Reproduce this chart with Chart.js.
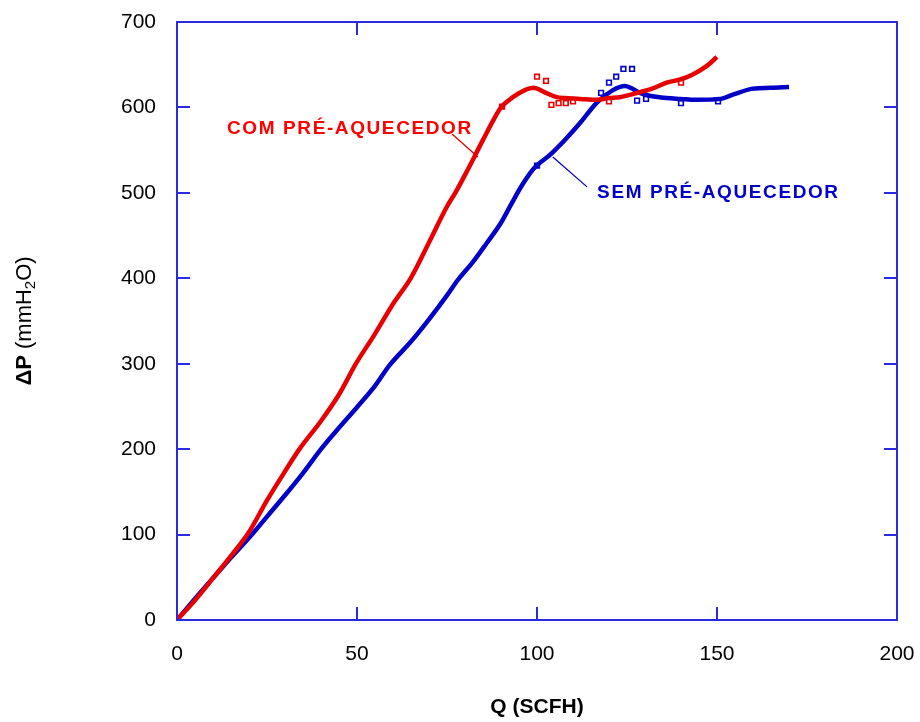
<!DOCTYPE html>
<html>
<head>
<meta charset="utf-8">
<script src="https://cdn.jsdelivr.net/npm/chart.js@4.4.1/dist/chart.umd.min.js"></script>
<style>
  html,body{margin:0;padding:0;background:#fff;}
  #wrap{width:920px;height:722px;}
</style>
</head>
<body>
<div id="wrap"><canvas id="c" width="920" height="722"></canvas></div>
<script>
/* curva com pré-aquecedor (Q em SCFH, ΔP em mmH2O) */
const comQ  = [0,5,10,15,20,25,30,34,40,45,49.7,55,60,64.9,70,75,77.3,80.5,85,88,90,93.3,96.5,99,102,105.5,108,112,116.7,120,123,128.6,132,136,140,143,147,150];
const comDP = [0,23,49,75,103,140,174,200,233,264,300,335,370,400,442,484,500,525,562,586,600,612,620,623,618,612,611,610,609,611,612,618,622,629,633,638,648,659];
/* pontos dispersos medidos, com pré-aquecedor */
const comPtsQ  = [90.3,100,102.5,104,106,108,110,120,140];
const comPtsDP = [601,636,631,603,605,605,607,607,629];

/* curva sem pré-aquecedor */
const semQ  = [0,5,10,15,21,25,30,35,40,45,50,55,59,65,70,75,78,82,86,90,93,96,99,104,108,112,116.7,121,124.4,126,128.6,131,136,140,144,151,154.4,160,165,170];
const semDP = [0,25,49,73,101,121,146,172,200,225,249,274,298,326,352,380,398,418,441,465,488,510,528,546,563,582,606,620,625,623,617,614,611,610,609,610,615,622,623,624];
const semPtsQ  = [100,117.8,120,122,124,126.4,127.8,130.3,140,150.3];
const semPtsDP = [532,617,629,636,645,645,608,610,605,607];

const xTicks = [0,50,100,150,200];
const yTicks = [0,100,200,300,400,500,600,700];

const RED  = '#e60000';
const BLUE = '#0000c8';
const AXIS = '#2a2ae0';
const FONT = '"Liberation Sans", Arial, sans-serif';

const pts = (xs,ys)=>xs.map((x,i)=>({x, y:ys[i]}));
const noPad = s=>{ s.paddingTop = s.paddingBottom = s.paddingLeft = s.paddingRight = 0; };

/* moldura com marcas internas nos quatro lados */
const framePlugin = {
  id:'frame',
  afterDraw(chart){
    const {ctx, chartArea:a, scales:{x,y}} = chart;
    const TL = 13;
    ctx.save();
    ctx.strokeStyle = AXIS; ctx.lineWidth = 2;
    ctx.strokeRect(a.left, a.top, a.right-a.left, a.bottom-a.top);
    ctx.beginPath();
    xTicks.forEach(v=>{
      const px = Math.round(x.getPixelForValue(v));
      ctx.moveTo(px, a.bottom); ctx.lineTo(px, a.bottom-TL);
      ctx.moveTo(px, a.top);    ctx.lineTo(px, a.top+TL);
    });
    yTicks.forEach(v=>{
      const py = Math.round(y.getPixelForValue(v));
      ctx.moveTo(a.left, py);  ctx.lineTo(a.left+TL, py);
      ctx.moveTo(a.right, py); ctx.lineTo(a.right-TL, py);
    });
    ctx.stroke();
    ctx.restore();
  }
};

/* rótulos das curvas, linhas de chamada e títulos dos eixos */
const labelsPlugin = {
  id:'labels',
  afterDraw(chart){
    const {ctx, chartArea:a, scales:{x,y}} = chart;
    ctx.save();

    const leader = (x1,y1,x2,y2,col)=>{
      ctx.strokeStyle = col; ctx.lineWidth = 1.3;
      ctx.beginPath();
      ctx.moveTo(x.getPixelForValue(x1), y.getPixelForValue(y1));
      ctx.lineTo(x.getPixelForValue(x2), y.getPixelForValue(y2));
      ctx.stroke();
    };
    leader(76.4,569,83.6,542,RED);
    leader(104.4,542,113.9,507,BLUE);

    ctx.font = 'bold 19px '+FONT;
    ctx.letterSpacing = '1.6px';
    ctx.textBaseline = 'middle'; ctx.textAlign = 'left';
    ctx.fillStyle = '#ff0000';
    ctx.fillText('COM PRÉ-AQUECEDOR', x.getPixelForValue(13.9), y.getPixelForValue(575));
    ctx.fillStyle = '#0000cc';
    ctx.fillText('SEM PRÉ-AQUECEDOR', x.getPixelForValue(116.7), y.getPixelForValue(500));
    ctx.letterSpacing = '0px';

    // título do eixo x
    ctx.fillStyle = '#000';
    ctx.font = 'bold 21px '+FONT;
    ctx.textAlign = 'center';
    ctx.fillText('Q (SCFH)', (a.left+a.right)/2, 707);

    // título do eixo y: ΔP (mmH₂O), girado
    ctx.translate(25, (a.top+a.bottom)/2);
    ctx.rotate(-Math.PI/2);
    const parts = [['ΔP','bold 22px '+FONT,0],[' (mmH','22px '+FONT,0],['2','15px '+FONT,6],['O)','22px '+FONT,0]];
    let total = 0;
    parts.forEach(p=>{ ctx.font = p[1]; total += ctx.measureText(p[0]).width; });
    let cx = -total/2;
    ctx.textAlign = 'left';
    parts.forEach(p=>{
      ctx.font = p[1];
      ctx.fillText(p[0], cx, p[2]);
      cx += ctx.measureText(p[0]).width;
    });
    ctx.restore();
  }
};

new Chart(document.getElementById('c'), {
  type:'scatter',
  data:{
    datasets:[
      {data:pts(comQ,comDP), showLine:true, borderColor:RED, borderWidth:4.5, pointRadius:0, cubicInterpolationMode:'monotone'},
      {data:pts(semQ,semDP), showLine:true, borderColor:BLUE, borderWidth:4.5, pointRadius:0, cubicInterpolationMode:'monotone'},
      {data:pts(comPtsQ,comPtsDP), pointStyle:'rect', pointRadius:3.3, backgroundColor:'#fff', borderColor:RED, borderWidth:1.6},
      {data:pts(semPtsQ,semPtsDP), pointStyle:'rect', pointRadius:3.3, backgroundColor:'#fff', borderColor:BLUE, borderWidth:1.6}
    ]
  },
  options:{
    responsive:false, animation:false,
    layout:{padding:{left:0, right:23, top:22, bottom:0}},
    plugins:{legend:{display:false}, tooltip:{enabled:false}},
    scales:{
      x:{
        type:'linear', min:0, max:200,
        grid:{display:false, drawTicks:false}, border:{display:false},
        afterBuildTicks:s=>{ s.ticks = xTicks.map(v=>({value:v})); },
        afterFit:s=>{ s.height = 102; noPad(s); },
        ticks:{color:'#000', padding:22, font:{family:FONT, size:21}}
      },
      y:{
        type:'linear', min:0, max:700,
        grid:{display:false, drawTicks:false}, border:{display:false},
        afterBuildTicks:s=>{ s.ticks = yTicks.map(v=>({value:v})); },
        afterFit:s=>{ s.width = 177; noPad(s); },
        ticks:{color:'#000', padding:21, font:{family:FONT, size:21}}
      }
    }
  },
  plugins:[framePlugin, labelsPlugin]
});
</script>
</body>
</html>
